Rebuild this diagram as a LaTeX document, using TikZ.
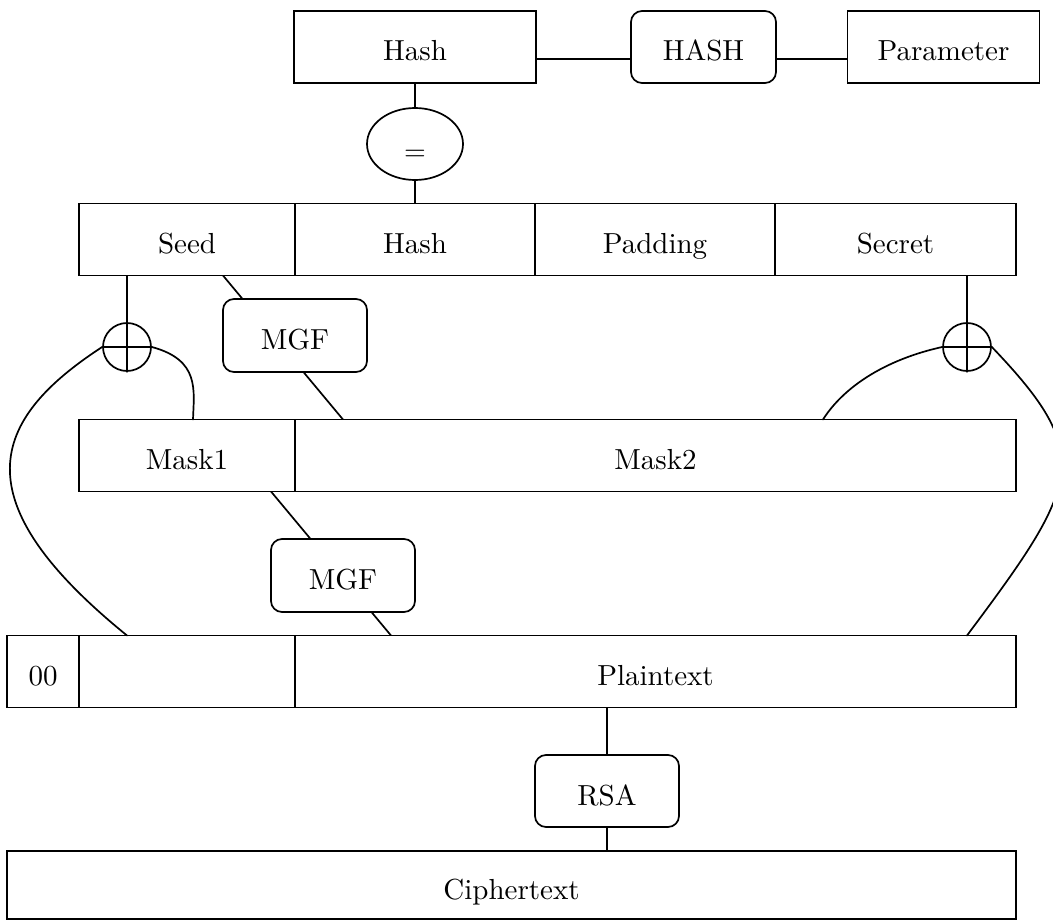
\documentclass[tikz,border=0pt]{standalone}
\usepackage{fontspec}
\setmainfont{lmroman10-regular.otf}
\usetikzlibrary{shapes.geometric}
\pgfdeclarelayer{bg}
\pgfsetlayers{bg,main}
\begin{document}
\begin{tikzpicture}[x=1pt,y=-1pt,line width=1.7pt,
  every node/.style={font=\fontsize{29}{35}\selectfont},
  conn/.style={draw,line width=1.7pt,line cap=round},
  cell/.style={draw,fill=white,rectangle,inner sep=0pt,minimum height=72pt,text height=28pt,text depth=0pt,line width=1.7pt},
  rbox/.style={cell,rounded corners=11pt,minimum width=144pt},
  xor/.style={draw,fill=white,circle,minimum size=48pt,inner sep=0pt,line width=1.7pt},
  eqnode/.style={draw,fill=white,ellipse,minimum width=96pt,minimum height=72pt,inner sep=0pt,text height=34pt,text depth=0pt,line width=1.7pt,font=\fontsize{28}{34}\selectfont}]
\useasboundingbox (0,0) rectangle (1053,920);
% top row
\node[cell,minimum width=242pt] (hashT) at (415,47) {Hash};
\node[rbox,minimum width=145pt] (hashF) at (703.5,47) {HASH};
\node[cell,minimum width=192pt] (param) at (943.5,47) {Parameter};
\node[eqnode] (eq) at (415,144) {=};
% row 2
\node[cell,minimum width=216pt] (seed) at (187,239.5) {Seed};
\node[cell,minimum width=240pt] (hashM) at (415,239.5) {Hash};
\node[cell,minimum width=240pt] (pad) at (655,239.5) {Padding};
\node[cell,minimum width=241pt] (secret) at (895.5,239.5) {Secret};
% row 3
\node[cell,minimum width=216pt] (mask1) at (187,455.5) {Mask1};
\node[cell,minimum width=721pt] (mask2) at (655.5,455.5) {Mask2};
% row 4
\node[cell,minimum width=72pt] (zero) at (43,671.5) {00};
\node[cell,minimum width=216pt] (blank) at (187,671.5) {};
\node[cell,minimum width=721pt] (plain) at (655.5,671.5) {Plaintext};
% bottom
\node[cell,minimum width=1009pt,minimum height=68pt] (cipher) at (511.5,885) {Ciphertext};
% operators
\node[xor] (xor1) at (127,347) {};
\node[xor] (xor2) at (967,347) {};
\node[rbox,minimum height=73pt] (mgf1) at (295,335.5) {MGF};
\node[rbox,minimum height=73pt] (mgf2) at (343,575.5) {MGF};
\node[rbox] (rsa) at (607,791) {RSA};
% attach points
\coordinate (hy) at (0,59);
\coordinate (d1a) at (223,275.5);
\coordinate (d1b) at (343,419.5);
\coordinate (d2a) at (271,491.5);
\coordinate (d2b) at (391,635.5);
\coordinate (p1) at (127,635.5);
\coordinate (p2) at (967,635.5);
\coordinate (m1) at (193,419.5);
\coordinate (m2) at (823,419.5);
% connectors
\path[conn] (hashT.east |- hy) -- (hashF.west |- hy);
\path[conn] (hashF.east |- hy) -- (param.west |- hy);
\path[conn] (hashT.south) -- (eq.north);
\path[conn] (eq.south) -- (hashM.north);
\begin{pgfonlayer}{bg}
\path[conn] (d1a) -- (d1b);
\path[conn] (d2a) -- (d2b);
\end{pgfonlayer}
\path[conn] (xor1 |- seed.south) -- (xor1.south);
\path[conn] (xor1.west) -- (xor1.east);
\path[conn] (xor2 |- secret.south) -- (xor2.south);
\path[conn] (xor2.west) -- (xor2.east);
\path[conn] (xor1.west) .. controls (-10,420) and (-40,500) .. (p1);
\path[conn] (xor1.east) .. controls (200,360) and (194,390) .. (m1);
\path[conn] (xor2.west) .. controls (888,359) and (845,385) .. (m2);
\path[conn] (xor2.east) .. controls (1095,455) and (1081,483) .. (p2);
\path[conn] (rsa |- plain.south) -- (rsa.north);
\path[conn] (rsa.south) -- (rsa |- cipher.north);
\end{tikzpicture}
\end{document}
